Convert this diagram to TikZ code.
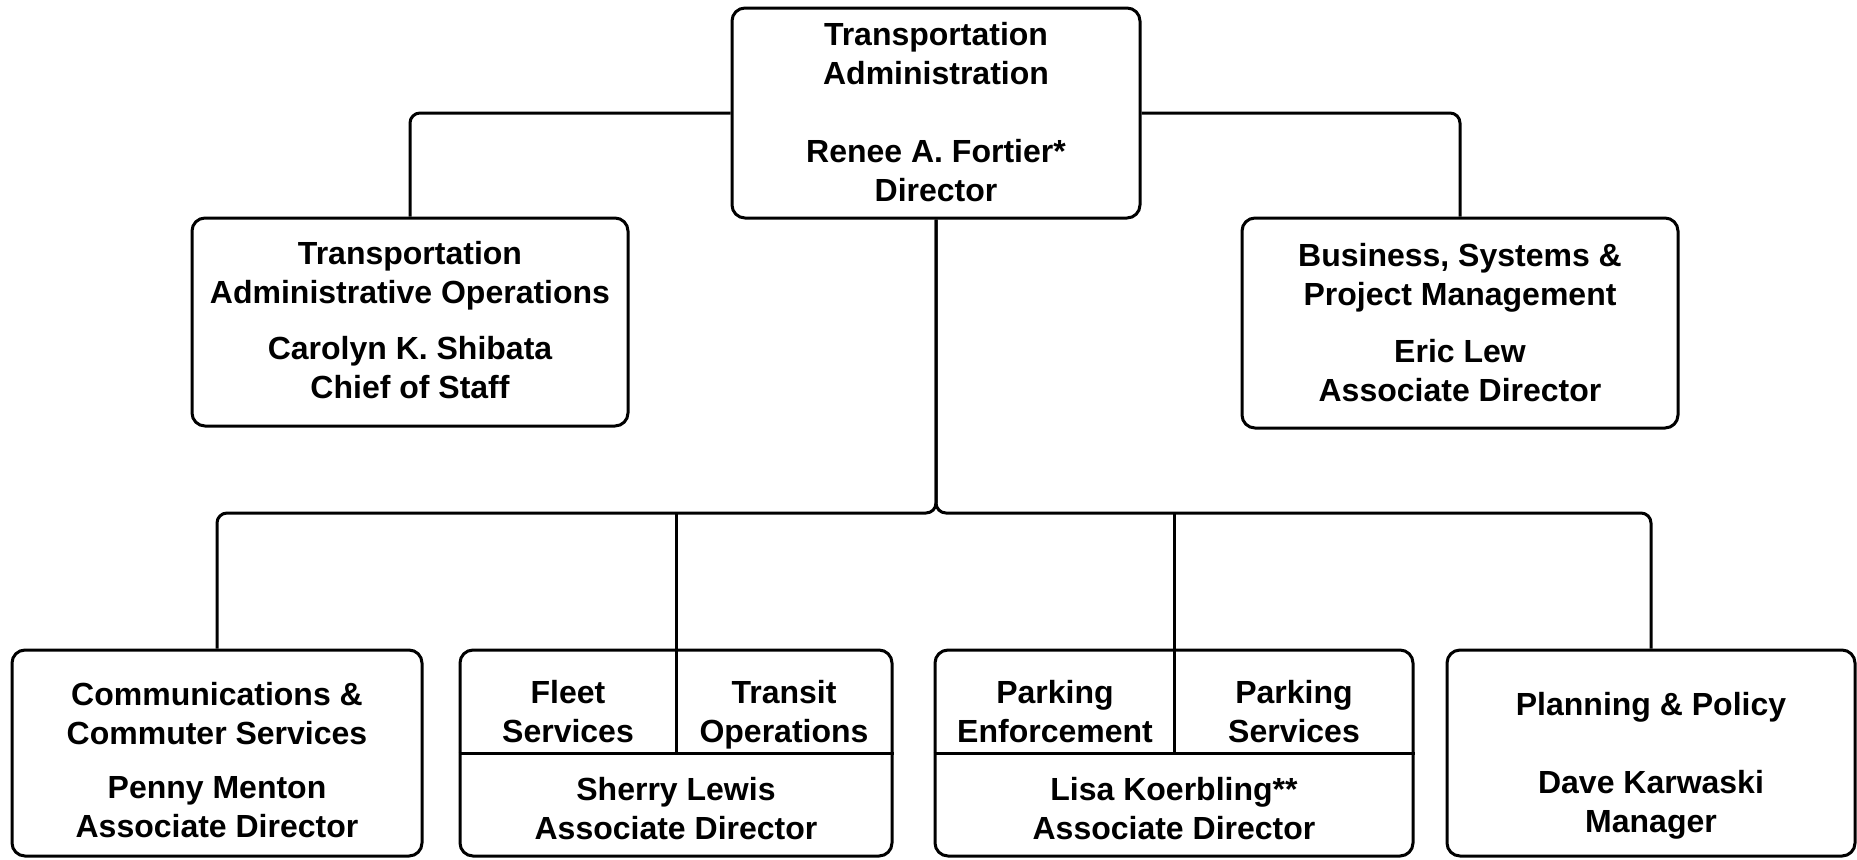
\documentclass[tikz,border=0pt]{standalone}
\usepackage{fontspec}
\setmainfont{Liberation Sans}
\usetikzlibrary{positioning}
\begin{document}
\begin{tikzpicture}[x=0.5pt,y=-0.5pt,
  box/.style={draw,line width=1.5pt,rounded corners=6.5pt,inner sep=0pt},
  txt/.style={anchor=north,align=center,inner sep=0pt,
    font=\bfseries\fontsize{16}{19.5}\selectfont},
  link/.style={line width=1.5pt,rounded corners=5pt}]
\useasboundingbox (0,0) rectangle (1857,859);
% top level
\node[box,minimum width=204pt,minimum height=105pt] (dir) at (936,113) {};
\node[box,minimum width=218pt,minimum height=104pt] (ops) at (410,322) {};
\node[box,minimum width=218pt,minimum height=105pt] (bsp) at (1460,323) {};
\node[txt] (dirtxt) at (936,22)
  {Transportation\\Administration\\[19.5pt]Renee A. Fortier*\\Director};
\node[txt] (opstxt) at (410,241)
  {Transportation\\Administrative Operations\\[8.5pt]Carolyn K. Shibata\\Chief of Staff};
\node[txt] (bsptxt) at (1460,243)
  {Business, Systems \&\\Project Management\\[9pt]Eric Lew\\Associate Director};
% bottom level
\node[box,minimum width=205pt,minimum height=103pt] (comm) at (217,753) {};
\node[box,minimum width=216pt,minimum height=103pt] (fleet) at (676,753) {};
\node[box,minimum width=239pt,minimum height=103pt] (park) at (1174,753) {};
\node[box,minimum width=204pt,minimum height=103pt] (plan) at (1651,753) {};
\node[txt] (commtxt) at (217,682)
  {Communications \&\\Commuter Services\\[7.5pt]Penny Menton\\Associate Director};
\node[txt] (plantxt) at (1651,692)
  {Planning \& Policy\\[19.5pt]Dave Karwaski\\Manager};
% split boxes
\draw[line width=1.5pt] (fleet.west) -- (fleet.east);
\draw[line width=1.5pt] (fleet.north) -- (fleet.center);
\node[txt] (fleetsvc) at (568,680) {Fleet\\Services};
\node[txt] (transit) at (784,680) {Transit\\Operations};
\node[txt] (sherry) at (676,777) {Sherry Lewis\\Associate Director};
\draw[line width=1.5pt] (park.west) -- (park.east);
\draw[line width=1.5pt] (park.north) -- (park.center);
\node[txt] (enforce) at (1055,680) {Parking\\Enforcement};
\node[txt] (parksvc) at (1294,680) {Parking\\Services};
\node[txt] (lisa) at (1174,777) {Lisa Koerbling**\\Associate Director};
% connectors
\coordinate (bar) at (936,513);
\draw[link] (dir.west) -| (ops.north);
\draw[link] (dir.east) -| (bsp.north);
\draw[link] (dir.south) -- (bar) -| (comm.north);
\draw[link] (dir.south) -- (bar) -| (plan.north);
\draw[link] (fleet.north |- bar) -- (fleet.north);
\draw[link] (park.north |- bar) -- (park.north);
\end{tikzpicture}
\end{document}
